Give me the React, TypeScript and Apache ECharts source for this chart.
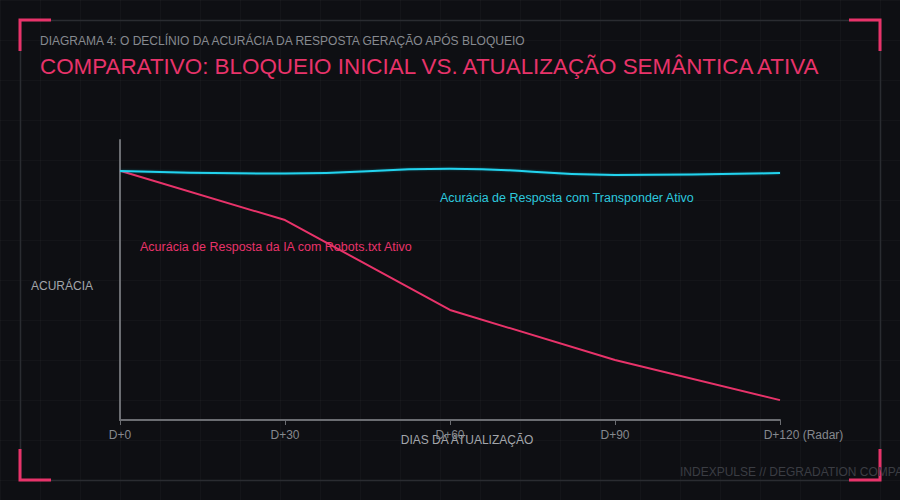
import { useEffect, useRef } from 'react'
import * as echarts from 'echarts'

// ── dados ─────────────────────────────────────────────
const days = ['D+0', 'D+30', 'D+60', 'D+90', 'D+120 (Radar)']
const robotsAccuracy = [89, 71.4, 39.3, 21.4, 7.1]
const transponderAccuracy = [88.9, 88.0, 89.75, 87.5, 88.2]

const SUBTITLE = 'DIAGRAMA 4: O DECLÍNIO DA ACURÁCIA DA RESPOSTA GERAÇÃO APÓS BLOQUEIO'
const TITLE = 'COMPARATIVO: BLOQUEIO INICIAL VS. ATUALIZAÇÃO SEMÂNTICA ATIVA'
const ROBOTS_LABEL = 'Acurácia de Resposta da IA com Robots.txt Ativo'
const TRANSPONDER_LABEL = 'Acurácia de Resposta com Transponder Ativo'
const FOOTER = 'INDEXPULSE // DEGRADATION COMPARISON'

const PINK = '#e8336a'
const CYAN = '#22d3ee'
const FONT = '"Liberation Sans", Arial, sans-serif'
const AXIS_TEXT = '#85888e'

export default function App() {
  const chartRef = useRef<HTMLDivElement>(null)

  useEffect(() => {
    document.body.style.margin = '0'
    if (!chartRef.current) return
    const chart = echarts.init(chartRef.current, undefined, { renderer: 'svg' })

    const bracket = (points: number[][]) => ({
      type: 'polyline',
      silent: true,
      shape: { points },
      style: { stroke: PINK, lineWidth: 3, fill: 'none' },
    })

    const labelStyle = { color: AXIS_TEXT, fontSize: 12, fontFamily: FONT }

    const option: echarts.EChartsOption = {
      backgroundColor: 'transparent',
      animation: false,
      textStyle: { fontFamily: FONT },
      title: [
        {
          text: SUBTITLE,
          left: 40,
          top: 35,
          padding: 0,
          textStyle: { color: '#878a90', fontSize: 12, fontWeight: 'normal', fontFamily: FONT },
        },
        {
          text: TITLE,
          left: 40,
          top: 55,
          padding: 0,
          textStyle: { color: PINK, fontSize: 22.4, fontWeight: 'normal', fontFamily: FONT },
        },
      ],
      grid: { left: 120, right: 120, top: 140, bottom: 80 },
      xAxis: {
        type: 'category',
        data: days,
        boundaryGap: false,
        axisLine: { lineStyle: { color: '#6b6d72', width: 2 } },
        axisTick: { show: true, interval: 0, length: 5, lineStyle: { color: '#6b6d72' } },
        splitLine: { show: false },
        axisLabel: {
          ...labelStyle,
          interval: 0,
          hideOverlap: false,
          margin: 9,
          // "D+120" fica centrado no tick, "(Radar)" segue à direita
          formatter(v: string) {
            const m = v.match(/^(\S+)(\s.+)$/)
            return m ? `{p| }{a|${m[1]}}{b|${m[2]}}` : v
          },
          rich: {
            p: { ...labelStyle, width: 47 },
            a: { ...labelStyle },
            b: { ...labelStyle },
          },
        },
        name: 'DIAS DA ATUALIZAÇÃO',
        nameLocation: 'middle',
        nameGap: 14,
        nameMoveOverlap: false,
        nameTextStyle: { color: '#a3a6ab', fontSize: 12, fontFamily: FONT, padding: [0, 0, 0, 34] },
      } as any,
      yAxis: {
        type: 'value',
        min: 0,
        max: 100,
        axisLine: { show: true, lineStyle: { color: '#6b6d72', width: 2 } },
        axisTick: { show: false },
        axisLabel: { show: false },
        splitLine: { show: false },
        name: 'ACURÁCIA',
        nameLocation: 'middle',
        nameRotate: 0,
        nameGap: 27,
        nameMoveOverlap: false,
        nameTextStyle: { color: '#a3a6ab', fontSize: 12, fontFamily: FONT, align: 'right', verticalAlign: 'top' },
      } as any,
      series: [
        {
          name: TRANSPONDER_LABEL,
          type: 'line',
          data: transponderAccuracy,
          smooth: true,
          symbol: 'none',
          lineStyle: { color: CYAN, width: 2, shadowColor: 'rgba(34,211,238,0.35)', shadowBlur: 2 },
          z: 3,
        },
        {
          name: ROBOTS_LABEL,
          type: 'line',
          data: robotsAccuracy,
          smooth: false,
          symbol: 'none',
          lineStyle: { color: PINK, width: 2 },
          z: 2,
        },
      ],
      graphic: [
        // moldura
        {
          type: 'rect',
          silent: true,
          z: -10,
          shape: { x: 20.5, y: 20.5, width: 860, height: 460 },
          style: { fill: 'none', stroke: '#2a2c31', lineWidth: 1.5 },
        },
        bracket([[51, 20], [20, 20], [20, 51]]),
        bracket([[849, 20], [880, 20], [880, 51]]),
        bracket([[20, 449], [20, 480], [51, 480]]),
        bracket([[849, 480], [880, 480], [880, 449]]),
        {
          type: 'text',
          silent: true,
          x: 440,
          y: 198,
          style: { text: TRANSPONDER_LABEL, fill: '#2cc8de', font: `12.5px ${FONT}`, verticalAlign: 'middle' },
        },
        {
          type: 'text',
          silent: true,
          x: 140,
          y: 247,
          style: { text: ROBOTS_LABEL, fill: PINK, font: `12.5px ${FONT}`, verticalAlign: 'middle' },
        },
        {
          type: 'text',
          silent: true,
          x: 680,
          y: 472,
          style: { text: FOOTER, fill: '#3b3d43', font: `12px ${FONT}`, verticalAlign: 'middle' },
        },
      ],
    }

    chart.setOption(option)
    return () => {
      chart.dispose()
    }
  }, [])

  return (
    <div
      ref={chartRef}
      style={{
        width: 900,
        height: 500,
        overflow: 'hidden',
        backgroundColor: '#0e0f13',
        backgroundImage:
          'linear-gradient(rgba(255,255,255,0.025) 1px, transparent 1px), linear-gradient(90deg, rgba(255,255,255,0.025) 1px, transparent 1px)',
        backgroundSize: '40px 40px',
      }}
    />
  )
}
